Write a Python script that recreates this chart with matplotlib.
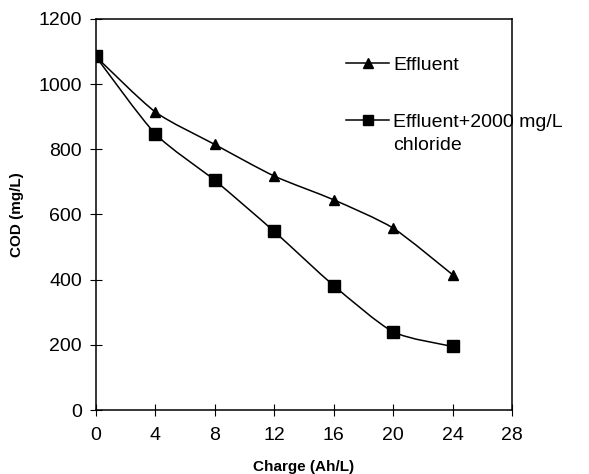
import matplotlib
matplotlib.use("Agg")
import matplotlib.pyplot as plt
import numpy as np
from matplotlib.path import Path
import matplotlib.patches as patches

plt.rcParams['font.family'] = ['Liberation Sans', 'DejaVu Sans']

# data
charge = [0, 4, 8, 12, 16, 20, 24]
cod_effluent = [1085, 915, 815, 718, 645, 558, 415]
cod_chloride = [1085, 848, 705, 548, 382, 240, 195]
labels = ['Effluent', 'Effluent+2000 mg/L', 'chloride']
x_ticks = [0, 4, 8, 12, 16, 20, 24, 28]
y_ticks = [0, 200, 400, 600, 800, 1000, 1200]


def smooth_path(x, y, k=0.12):
    # spreadsheet-style smoothed line: cubic bezier through every point
    pts = np.column_stack([x, y]).astype(float)
    verts = [pts[0]]
    codes = [Path.MOVETO]
    n = len(pts)
    for i in range(n - 1):
        p0 = pts[i - 1] if i > 0 else pts[i]
        p1 = pts[i]
        p2 = pts[i + 1]
        p3 = pts[i + 2] if i + 2 < n else pts[i + 1]
        c1 = p1 + (p2 - p0) * k
        c2 = p2 - (p3 - p1) * k
        verts += [c1, c2, p2]
        codes += [Path.CURVE4] * 3
    return Path(verts, codes)


fig = plt.figure(figsize=(5.89, 4.74), dpi=100)
ax = fig.add_axes([0.1625, 0.135, 0.707, 0.825])

for y, marker in [(cod_effluent, '^'), (cod_chloride, 's')]:
    ax.add_patch(patches.PathPatch(smooth_path(charge, y), facecolor='none',
                                   edgecolor='black', lw=1.1))
    ax.plot(charge, y, linestyle='none', marker=marker, color='black',
            markersize=8 if marker == 's' else 7.5)

# legend entries (no frame); second label wraps onto a line below
ax.plot([], [], color='black', marker='^', ms=7, lw=1.1, label=labels[0])
ax.plot([], [], color='black', marker='s', ms=7, lw=1.1, label=labels[1])
leg = ax.legend(loc='upper left', bbox_to_anchor=(0.56, 0.95), frameon=False,
                fontsize=14, handlelength=2.2, handletextpad=0.2,
                labelspacing=2.05)
ax.annotate(labels[2], xy=(0, 0), xycoords=leg.get_texts()[1],
            xytext=(0, -16.5), textcoords='offset points',
            ha='left', va='bottom', fontsize=14, zorder=10)

ax.set_xlim(0, 28)
ax.set_ylim(0, 1200)
ax.set_xticks(x_ticks)
ax.set_yticks(y_ticks)
ax.tick_params(axis='both', labelsize=14, direction='inout', length=8,
               width=0.8, colors='black')
ax.tick_params(axis='x', pad=8)
ax.tick_params(axis='y', pad=6)
for s in ax.spines.values():
    s.set_linewidth(1.1)

ax.set_xlabel('Charge (Ah/L)', fontsize=11, fontweight='bold', labelpad=12)
ax.set_ylabel('COD (mg/L)', fontsize=11, fontweight='bold', labelpad=10)

fig.savefig('out.png', dpi=100)
